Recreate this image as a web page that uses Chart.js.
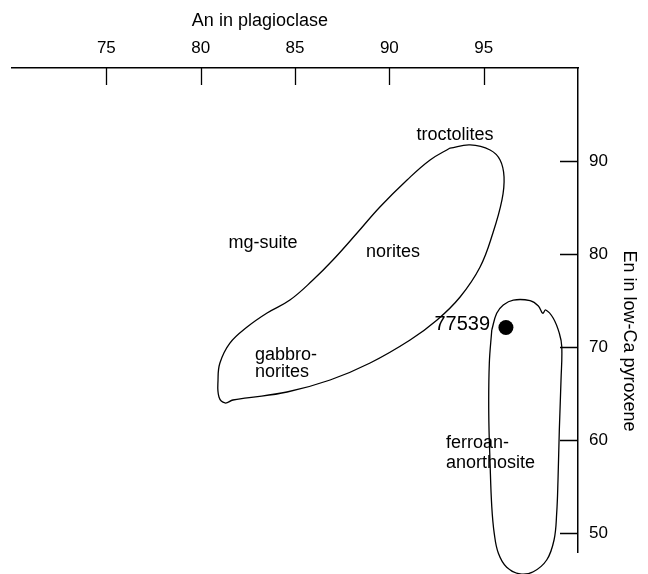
<!DOCTYPE html>
<html>
<head>
<meta charset="utf-8">
<title>An in plagioclase vs En in low-Ca pyroxene</title>
<script src="https://cdn.jsdelivr.net/npm/chart.js@4"></script>
<style>
  html, body { margin: 0; padding: 0; background: #fff; }
</style>
</head>
<body>
<canvas id="chart-rocks" width="648" height="574"></canvas>
<script>
/** Ticks de los dos ejes. */
const xTicks = [75, 80, 85, 90, 95];
const yTicks = [50, 60, 70, 80, 90];

/** Contorno del campo mg-suite (An, En). */
const mgSuiteX = [93.22, 94.28, 95.34, 95.87, 96.08, 95.97, 95.49, 94.81, 93.75, 92.53, 91.10,
                  88.98, 86.86, 84.58, 82.46, 81.71, 81.29, 80.97, 80.92, 81.02, 81.55, 82.46,
                  83.52, 84.73, 85.95, 87.01, 88.29, 89.50, 90.94, 92.16, 93.22];
const mgSuiteY = [91.40, 91.73, 91.19, 90.12, 88.29, 85.82, 82.27, 78.62, 75.40, 72.93, 70.78,
                  68.31, 66.48, 65.19, 64.55, 64.33, 64.01, 64.65, 66.48, 68.31, 70.45, 72.17,
                  73.68, 75.07, 77.22, 79.37, 82.27, 85.07, 87.97, 90.12, 91.40];

/** Contorno del campo ferroan-anorthosite. */
const faX = [95.43, 95.69, 96.04, 96.57, 97.46, 97.90, 98.13, 98.29, 98.69, 99.01, 99.14,
             99.10, 99.01, 98.94, 98.87, 98.73, 98.34, 97.63, 96.93, 96.22, 95.78, 95.56,
             95.43, 95.34, 95.27, 95.30, 95.43];
const faY = [71.85, 73.65, 74.54, 75.07, 75.00, 74.43, 73.65, 74.00, 73.11, 71.50, 70.06,
             66.48, 61.11, 55.74, 52.16, 49.29, 47.14, 45.88, 45.64, 46.36, 47.86, 50.01,
             52.87, 57.53, 62.90, 68.27, 71.85];

/** Muestra 77539. */
const sampleX = [96.18];
const sampleY = [72.12];

/** Etiquetas de los campos (ancla en coordenadas de datos). */
const labelText = ['troctolites', 'mg-suite', 'norites', 'gabbro-', 'norites',
                   'ferroan-', 'anorthosite', '77539'];
const labelX    = [93.48, 83.30, 90.19, 82.88, 82.88, 93.00, 93.00, 95.34];
const labelY    = [92.26, 80.69, 79.73, 68.63, 66.77, 59.14, 56.99, 71.85];
const labelAlign = ['center', 'center', 'center', 'left', 'left', 'left', 'left', 'right'];

const FONT = "'Liberation Sans', Arial, sans-serif";

const toPoints = (xs, ys) => xs.map((x, i) => ({ x, y: ys[i] }));

// Ticks hacia adentro, títulos de ejes y etiquetas de texto
const overlayPlugin = {
  id: 'overlay',
  afterDraw(chart) {
    const { ctx, chartArea: area, scales: { x, y } } = chart;
    ctx.save();
    ctx.strokeStyle = '#000';
    ctx.lineWidth = 1.3;
    ctx.beginPath();
    xTicks.forEach((v) => {
      const px = Math.round(x.getPixelForValue(v)) + 0.5;
      ctx.moveTo(px, area.top);
      ctx.lineTo(px, area.top + 17);
    });
    yTicks.forEach((v) => {
      const py = Math.round(y.getPixelForValue(v)) + 0.5;
      ctx.moveTo(area.right - 18, py);
      ctx.lineTo(area.right, py);
    });
    ctx.stroke();

    ctx.fillStyle = '#000';
    ctx.font = `18px ${FONT}`;
    ctx.textBaseline = 'alphabetic';
    labelText.forEach((t, i) => {
      ctx.font = t === '77539' ? `20px ${FONT}` : `18px ${FONT}`;
      ctx.textAlign = labelAlign[i];
      ctx.fillText(t, x.getPixelForValue(labelX[i]), y.getPixelForValue(labelY[i]));
    });

    // Títulos de ejes
    ctx.font = `18px ${FONT}`;
    ctx.textAlign = 'center';
    ctx.fillText('An in plagioclase', area.left + (area.right - area.left) * 0.438, area.top - 42);

    ctx.translate(area.right + 51, area.top + (area.bottom - area.top) * 0.564);
    ctx.rotate(Math.PI / 2);
    ctx.textBaseline = 'middle';
    ctx.fillText('En in low-Ca pyroxene', 0, 0);
    ctx.restore();
  },
};

const curveStyle = {
  showLine: true,
  fill: false,
  borderColor: '#000',
  borderWidth: 1.3,
  pointRadius: 0,
  tension: 0.4,
  capBezierPoints: false,
  clip: false,
};

new Chart(document.getElementById('chart-rocks'), {
  type: 'scatter',
  data: {
    datasets: [
      { ...curveStyle, label: 'mg-suite', data: toPoints(mgSuiteX, mgSuiteY) },
      { ...curveStyle, label: 'ferroan-anorthosite', data: toPoints(faX, faY) },
      {
        label: '77539',
        data: toPoints(sampleX, sampleY),
        pointRadius: 7.5,
        pointBackgroundColor: '#000',
        pointBorderColor: '#000',
        borderWidth: 0,
      },
    ],
  },
  options: {
    responsive: false,
    animation: false,
    layout: { padding: { left: 12, bottom: 22, top: 0, right: 0 } },
    plugins: { legend: { display: false }, tooltip: { enabled: false } },
    scales: {
      x: {
        type: 'linear',
        position: 'top',
        min: 70,
        max: 100,
        afterBuildTicks: (s) => { s.ticks = xTicks.map((v) => ({ value: v })); },
        afterFit: (s) => { s.height = 68; },
        grid: { drawOnChartArea: false, drawTicks: false },
        border: { display: true, color: '#000', width: 1.5 },
        ticks: { color: '#000', padding: 9, maxRotation: 0, font: { family: FONT, size: 17 } },
      },
      y: {
        type: 'linear',
        position: 'right',
        min: 48,
        max: 100,
        afterBuildTicks: (s) => { s.ticks = yTicks.map((v) => ({ value: v })); },
        afterFit: (s) => { s.width = 70; },
        grid: { drawOnChartArea: false, drawTicks: false },
        border: { display: true, color: '#000', width: 1.5 },
        ticks: { color: '#000', padding: 11, font: { family: FONT, size: 17 } },
      },
    },
  },
  plugins: [overlayPlugin],
});
</script>
</body>
</html>
